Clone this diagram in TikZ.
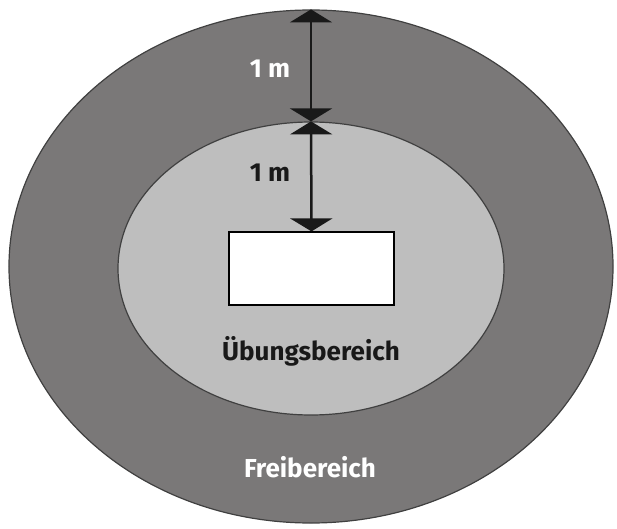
\documentclass[tikz,border=0pt]{standalone}
\usepackage{fontspec}
\setsansfont{Fira Sans}
\usetikzlibrary{arrows.meta, shapes.geometric}

\definecolor{outergray}{HTML}{7A7878}
\definecolor{innergray}{HTML}{BEBEBE}

\tikzset{
  zone/.style={draw=black!75, line width=1.2bp, ellipse, inner sep=0pt},
  dimline/.style={{Triangle[width=42bp,length=13bp]}-{Triangle[width=42bp,length=13bp]},
    line width=2.5bp, draw=black!90},
  lbl/.style={font=\sffamily\bfseries\fontsize{26bp}{30bp}\selectfont, anchor=base, inner sep=0pt}
}

\begin{document}
\begin{tikzpicture}[x=1bp, y=-1bp]
\useasboundingbox (0,0) rectangle (617,529);

\node at (311,266.5) (frei) [zone, fill=outergray, minimum width=604bp, minimum height=513bp] {};

\node at (311,268.5) (uebung) [zone, fill=innergray, minimum width=386bp, minimum height=293bp] {};

\node at (311.5,268.5) (platz) [draw, fill=white, line width=1.2bp, minimum width=165bp, minimum height=73bp, inner sep=0pt] {};

\draw[dimline] (frei.north) -- (uebung.north);
\draw[dimline] (uebung.north) -- (platz.north);

\node at (270,78) (abstand1) [lbl, text=white] {1 m};
\node at (270,182) (abstand2) [lbl, text=black!90] {1 m};

\node at (311,360) (uebtext) [lbl, text=black!90] {Übungsbereich};
\node at (310,477) (freitext) [lbl, text=white] {Freibereich};
\end{tikzpicture}
\end{document}
